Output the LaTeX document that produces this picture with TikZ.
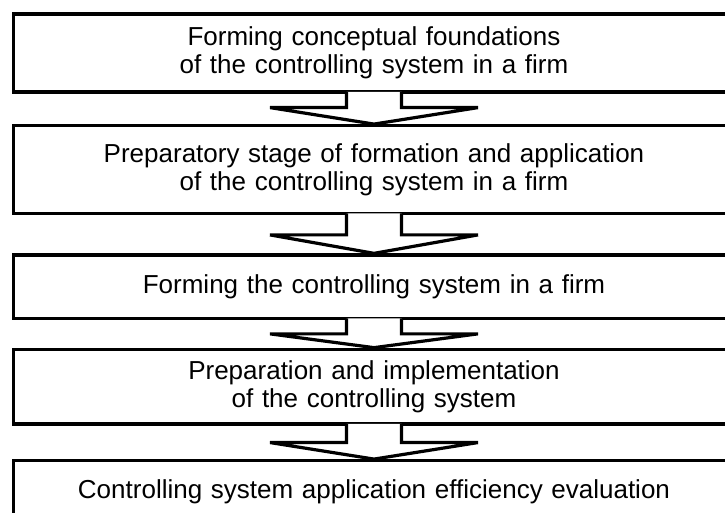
\documentclass[tikz,border=0pt]{standalone}
\usepackage{fontspec}
\setmainfont{Liberation Sans}
\usetikzlibrary{positioning}

\tikzset{
	stage/.style={draw, line width=3.2pt, minimum width=721pt, inner sep=2pt,
		text width=700pt, align=center, font=\fontsize{26}{28}\selectfont},
	blockarrow/.style={draw, line width=3.2pt, fill=white, line join=miter}
}

\begin{document}
\begin{tikzpicture}[x=1pt,y=1pt]
		\useasboundingbox (0,0) rectangle (725,512);
		\clip (0,0) rectangle (725,512);
		
		\node[stage, minimum height=78pt] (conc) at (374,459) {Forming conceptual foundations\\of the controlling system in a firm};
		\node[stage, minimum height=87.6pt] (prep) at (374,342.5) {Preparatory stage of formation and application\\of the controlling system in a firm};
		\node[stage, minimum height=63.3pt] (form) at (374,225.4) {Forming the controlling system in a firm};
		\node[stage, minimum height=74.7pt] (impl) at (374,125.4) {Preparation and implementation\\of the controlling system};
		\node[stage, minimum height=63pt] (eval) at (374,19.8) {Controlling system application efficiency evaluation};
		
		%%% block arrows between the stages
		\foreach \a/\b/\s in {conc/prep/14, prep/form/20, form/impl/14, impl/eval/17}
		\draw[blockarrow] ([xshift=-27.5pt,yshift=1.6pt]\a.south) -- ([xshift=-27.5pt,yshift=-\s pt]\a.south)
			-- ([xshift=-104pt,yshift=-\s pt]\a.south) -- (\b.north)
			-- ([xshift=104pt,yshift=-\s pt]\a.south) -- ([xshift=27.5pt,yshift=-\s pt]\a.south)
			-- ([xshift=27.5pt,yshift=1.6pt]\a.south);
		
	\end{tikzpicture}
\end{document}
